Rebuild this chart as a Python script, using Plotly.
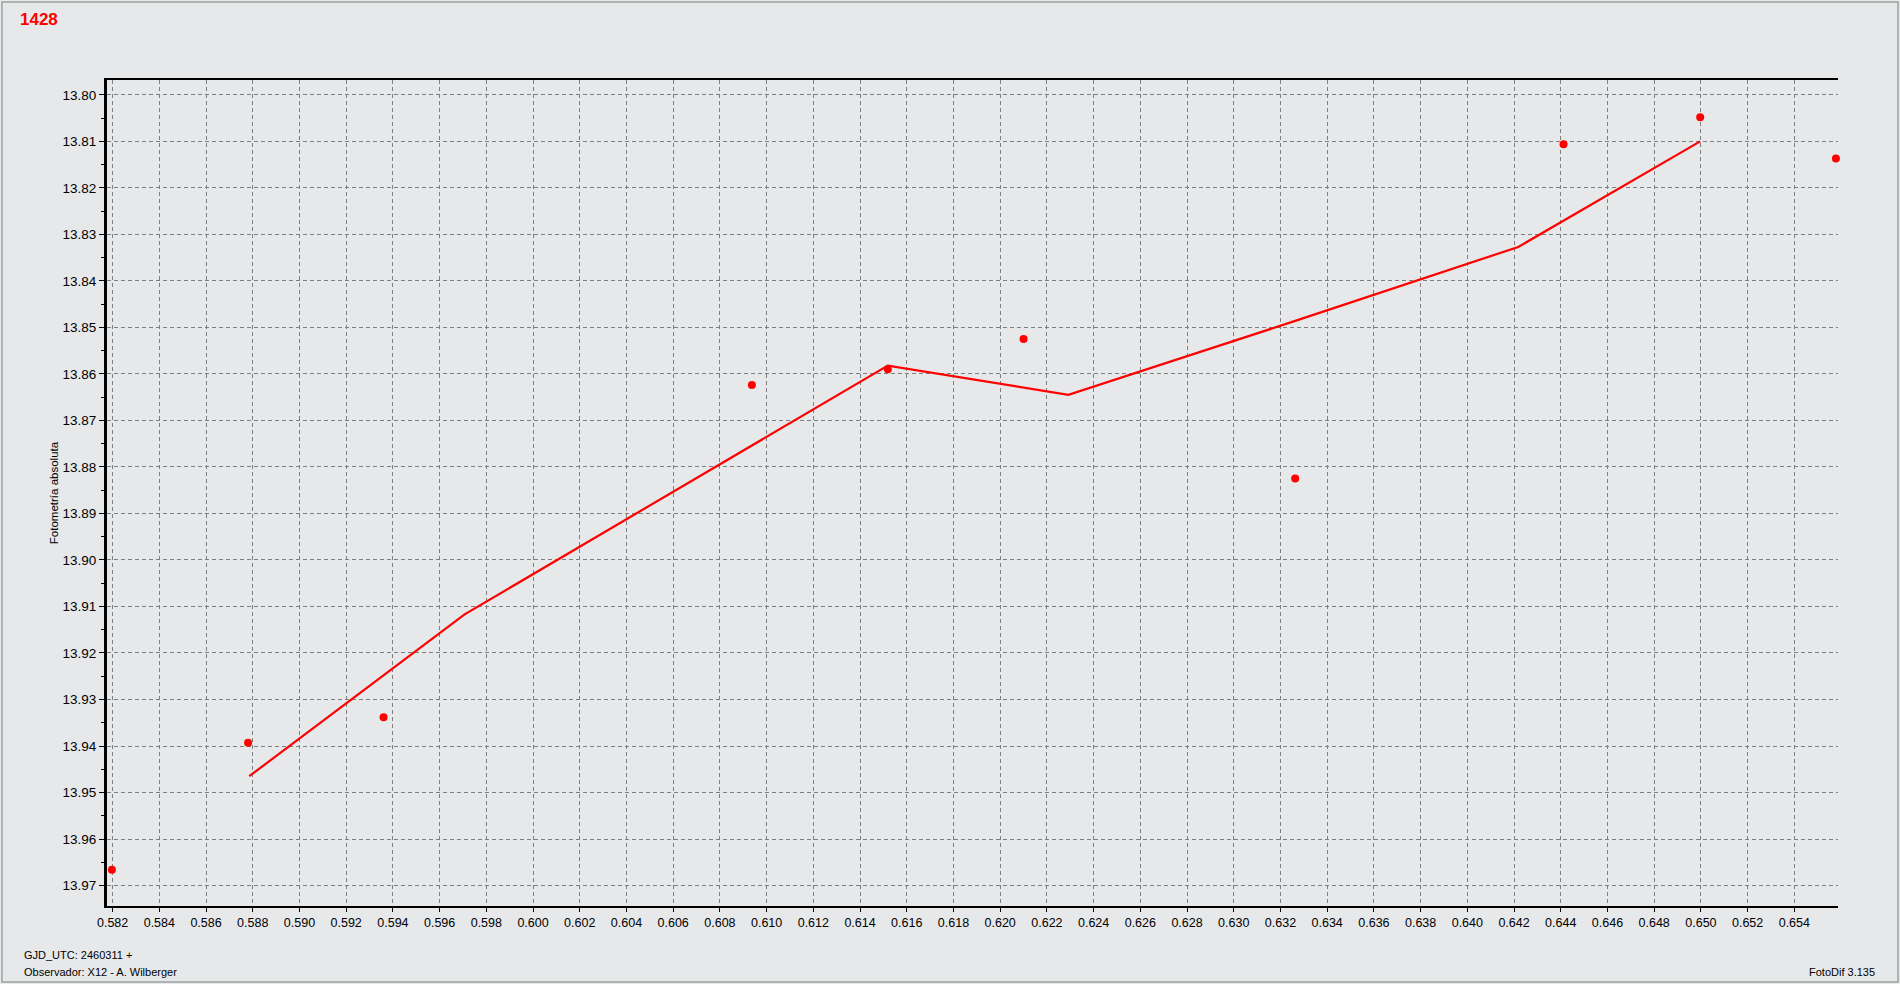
import plotly.graph_objects as go

# ---- data ----
point_x = [0.58197, 0.5878, 0.5936, 0.60937, 0.61519, 0.6210, 0.63263, 0.64412, 0.64997, 0.65578]
point_y = [13.9666, 13.9393, 13.9338, 13.8624, 13.8590, 13.8525, 13.8825, 13.8106, 13.8048, 13.8137]

line_x = [0.58785, 0.59707, 0.61519, 0.62292, 0.63263, 0.64218, 0.64997]
line_y = [13.9465, 13.9117, 13.8582, 13.8645, 13.8486, 13.8327, 13.8100]

title_text = "1428"
y_title = "Fotometría absoluta"
footer_left = ["GJD_UTC: 2460311 +", "Observador: X12 - A. Wilberger"]
footer_right = "FotoDif 3.135"

# ---- layout geometry (pixels) ----
W, H = 1900, 984
L, R, T, B = 107, 62, 80, 78
PW, PH = W - L - R, H - T - B


def px(x):
    return (x - L) / PW


def py(y):
    return 1 - (y - T) / PH


BG = "#E7E8EA"
FONT = "Liberation Sans, Arial, sans-serif"

fig = go.Figure()
fig.add_trace(go.Scatter(x=line_x, y=line_y, mode="lines",
                         line=dict(color="#FF0000", width=2.2), hoverinfo="skip",
                         showlegend=False))
fig.add_trace(go.Scatter(x=point_x, y=point_y, mode="markers",
                         marker=dict(color="#FF0000", size=8, line=dict(width=0)),
                         showlegend=False, cliponaxis=False))

grid = dict(showgrid=True, gridcolor="#7F7F7F", gridwidth=1, griddash="4px,3px")

fig.update_xaxes(range=[0.58176, 0.65587], tick0=0.582, dtick=0.002, tickformat=".3f",
                 ticks="outside", ticklen=4, tickcolor="black",
                 showline=True, linecolor="black", linewidth=1.5, mirror=True,
                 zeroline=False, tickfont=dict(family=FONT, size=12.5, color="black"),
                 **grid)
fig.update_yaxes(range=[13.9744, 13.7968], tick0=13.80, dtick=0.01, tickformat=".2f",
                 ticks="outside", ticklen=5, tickcolor="black",
                 minor=dict(dtick=0.005, ticks="outside", ticklen=3, tickcolor="black", showgrid=False),
                 showline=True, linecolor="black", linewidth=3, mirror=False,
                 zeroline=False, tickfont=dict(family=FONT, size=13.5, color="black"),
                 title=dict(text=y_title, font=dict(family=FONT, size=11.5, color="black"), standoff=2),
                 **grid)

annotations = [
    dict(text="<b>" + title_text + "</b>", x=px(18), y=py(19), xref="paper", yref="paper",
         xanchor="left", yanchor="middle", showarrow=False,
         font=dict(family=FONT, size=17, color="#FF0000")),
    dict(text=footer_left[0], x=px(22), y=py(955), xref="paper", yref="paper",
         xanchor="left", yanchor="middle", showarrow=False,
         font=dict(family=FONT, size=11, color="black")),
    dict(text=footer_left[1], x=px(22), y=py(972), xref="paper", yref="paper",
         xanchor="left", yanchor="middle", showarrow=False,
         font=dict(family=FONT, size=11, color="black")),
    dict(text=footer_right, x=px(1877), y=py(972), xref="paper", yref="paper",
         xanchor="right", yanchor="middle", showarrow=False,
         font=dict(family=FONT, size=11, color="black")),
]

shapes = [
    dict(type="rect", xref="paper", yref="paper", x0=px(2), x1=px(W - 2), y0=py(H - 2), y1=py(2),
         line=dict(color="#A0A0A0", width=1.5), fillcolor="rgba(0,0,0,0)", layer="below"),
]

fig.update_layout(width=W, height=H, autosize=False,
                  margin=dict(l=L, r=R, t=T, b=B, pad=0),
                  paper_bgcolor=BG, plot_bgcolor=BG,
                  font=dict(family=FONT, color="black"),
                  annotations=annotations, shapes=shapes, showlegend=False)

fig.write_html("out.html", config={"displayModeBar": False},
               post_script="document.body.style.margin='0';document.body.style.overflow='hidden';")
